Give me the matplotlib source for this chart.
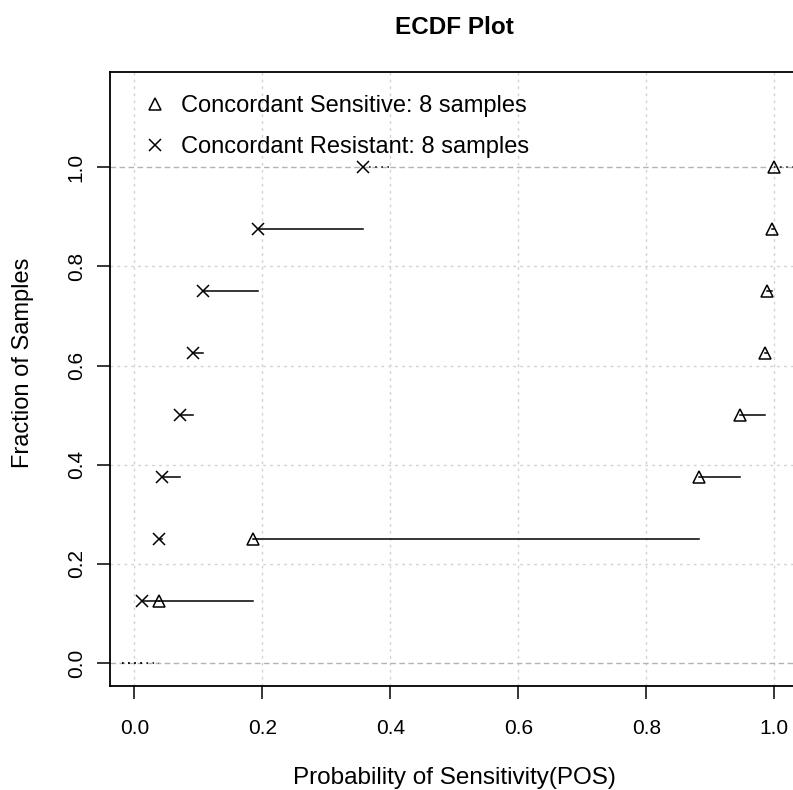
import matplotlib
matplotlib.use("Agg")
import matplotlib.pyplot as plt
import numpy as np
from matplotlib.lines import Line2D

# Data
sensitive = [0.038, 0.185, 0.882, 0.946, 0.986, 0.989, 0.997, 1.000]
resistant = [0.012, 0.038, 0.043, 0.071, 0.091, 0.107, 0.193, 0.357]
labels = ["Concordant Sensitive: 8 samples", "Concordant Resistant: 8 samples"]
ticks = [0.0, 0.2, 0.4, 0.6, 0.8, 1.0]
tick_labels = ["0.0", "0.2", "0.4", "0.6", "0.8", "1.0"]

plt.rcParams['font.family'] = ['Liberation Sans', 'DejaVu Sans']

W, H = 793, 790
fig = plt.figure(figsize=(W / 100, H / 100), dpi=100)
ax = fig.add_axes([110 / W, (H - 686) / H, (800 - 110) / W, (686 - 72) / H])
xlim = (-0.038, 1.04)
ylim = (-0.046, 1.192)
ax.set_xlim(*xlim)
ax.set_ylim(*ylim)

# grid
for t in ticks:
    ax.axvline(t, color='#d3d3d3', lw=1, ls=(0, (2, 3)), zorder=0)
for t in ticks[1:-1]:
    ax.axhline(t, color='#d3d3d3', lw=1, ls=(0, (2, 3)), zorder=0)
for t in (0.0, 1.0):
    ax.axhline(t, color='#b3b3b3', lw=1, ls=(0, (4, 2.5)), zorder=0.5)


def draw_ecdf(vals, marker, ms, left_end, right_end):
    v = np.sort(np.asarray(vals))
    n = len(v)
    ys = np.arange(1, n + 1) / n
    for i in range(n - 1):
        ax.plot([v[i], v[i + 1]], [ys[i], ys[i]], color='black', lw=1.1, zorder=2)
    ax.plot([left_end, v[0]], [0, 0], color='black', lw=1.1, ls=(0, (1, 3)), zorder=2)
    ax.plot([v[-1], right_end], [1, 1], color='black', lw=1.1, ls=(0, (1, 3)), zorder=2)
    mk = dict(marker=marker, ls='none', color='black', ms=ms, zorder=3, mew=1.1)
    if marker == '^':
        mk.update(mfc='none')
    ax.plot(v, ys, **mk)


draw_ecdf(resistant, 'x', 8.5, -0.02, 0.40)
draw_ecdf(sensitive, '^', 8.5, -0.02, 1.03)

# legend
h1 = Line2D([], [], marker='^', ls='none', color='black', mfc='none', ms=8.5, mew=1.1)
h2 = Line2D([], [], marker='x', ls='none', color='black', ms=8.5, mew=1.1)
ax.legend([h1, h2], labels, loc='upper left', bbox_to_anchor=(0.035, 0.978),
          frameon=False, fontsize=17, handlelength=1.0, handletextpad=0.6,
          labelspacing=0.8, borderaxespad=0)

ax.set_xticks(ticks)
ax.set_xticklabels(tick_labels)
ax.set_yticks(ticks)
ax.set_yticklabels(tick_labels, rotation=90, va='center')
ax.tick_params(axis='both', length=9.5, width=1.1, labelsize=15, direction='out')
ax.tick_params(axis='x', pad=14)
ax.tick_params(axis='y', pad=8)
for s in ax.spines.values():
    s.set_linewidth(1.3)

fig.text(454 / W, 1 - 27 / H, "ECDF Plot", ha='center', va='center',
         fontsize=17.5, fontweight='bold')
fig.text(454 / W, 1 - 778 / H, "Probability of Sensitivity(POS)", ha='center', va='center',
         fontsize=17.5)
fig.text(23 / W, 1 - 363 / H, "Fraction of Samples", ha='center', va='center',
         fontsize=17, rotation=90)

fig.savefig("out.png", dpi=100)
